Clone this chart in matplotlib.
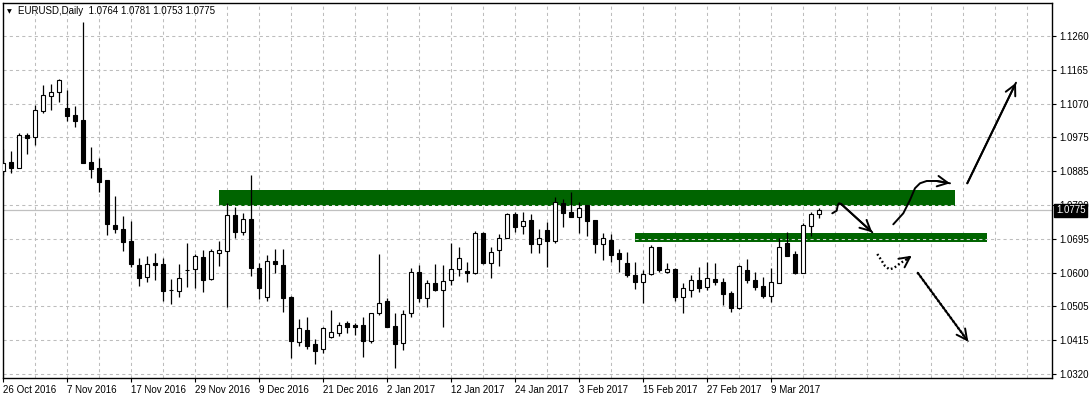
import matplotlib
matplotlib.use("Agg")
import matplotlib.pyplot as plt
from matplotlib.transforms import blended_transform_factory

plt.rcParams['font.family'] = ['Liberation Sans', 'DejaVu Sans']

# ---------------- data (EURUSD daily) ----------------
opens = [1.0885, 1.0909, 1.0894, 1.0984, 1.0978, 1.1052, 1.1094, 1.1103, 1.1060, 1.1040,
         1.1026, 1.0909, 1.0892, 1.0859, 1.0734, 1.0723, 1.0690, 1.0623, 1.0591, 1.0629,
         1.0625, 1.0553, 1.0552, 1.0608, 1.0611, 1.0646, 1.0584, 1.0657, 1.0663, 1.0762,
         1.0716, 1.0751, 1.0614, 1.0533, 1.0634, 1.0623, 1.0535, 1.0410, 1.0442, 1.0403,
         1.0389, 1.0422, 1.0433, 1.0461, 1.0456, 1.0456, 1.0413, 1.0489, 1.0523, 1.0453,
         1.0405, 1.0489, 1.0604, 1.0530, 1.0572, 1.0555, 1.0581, 1.0612, 1.0606, 1.0600,
         1.0711, 1.0628, 1.0665, 1.0699, 1.0764, 1.0731, 1.0748, 1.0681, 1.0720, 1.0691,
         1.0795, 1.0770, 1.0756, 1.0790, 1.0748, 1.0681, 1.0694, 1.0657, 1.0628, 1.0595,
         1.0575, 1.0597, 1.0672, 1.0604, 1.0611, 1.0533, 1.0555, 1.0581, 1.0561, 1.0584,
         1.0575, 1.0544, 1.0504, 1.0609, 1.0581, 1.0565, 1.0538, 1.0574, 1.0685, 1.0654,
         1.0602, 1.0731, 1.0764]
highs = [1.0945, 1.0940, 1.0989, 1.0991, 1.1068, 1.1123, 1.1126, 1.1140, 1.1110, 1.1065,
         1.1299, 1.0950, 1.0922, 1.0859, 1.0815, 1.0759, 1.0746, 1.0642, 1.0648, 1.0656,
         1.0642, 1.0583, 1.0626, 1.0683, 1.0654, 1.0665, 1.0667, 1.0690, 1.0795, 1.0785,
         1.0767, 1.0873, 1.0629, 1.0651, 1.0668, 1.0669, 1.0537, 1.0473, 1.0478, 1.0417,
         1.0450, 1.0498, 1.0465, 1.0467, 1.0463, 1.0479, 1.0490, 1.0654, 1.0530, 1.0490,
         1.0498, 1.0614, 1.0623, 1.0581, 1.0626, 1.0623, 1.0685, 1.0672, 1.0632, 1.0718,
         1.0716, 1.0674, 1.0708, 1.0767, 1.0771, 1.0770, 1.0765, 1.0723, 1.0743, 1.0811,
         1.0808, 1.0827, 1.0797, 1.0790, 1.0748, 1.0711, 1.0709, 1.0667, 1.0660, 1.0632,
         1.0609, 1.0679, 1.0674, 1.0630, 1.0614, 1.0572, 1.0595, 1.0617, 1.0632, 1.0629,
         1.0586, 1.0551, 1.0623, 1.0640, 1.0604, 1.0589, 1.0614, 1.0697, 1.0714, 1.0662,
         1.0741, 1.0770, 1.0781]
lows = [1.0873, 1.0880, 1.0892, 1.0932, 1.0957, 1.1046, 1.1054, 1.1077, 1.1024, 1.1008,
        1.0906, 1.0864, 1.0827, 1.0706, 1.0711, 1.0663, 1.0618, 1.0565, 1.0577, 1.0581,
        1.0524, 1.0515, 1.0535, 1.0561, 1.0558, 1.0549, 1.0581, 1.0621, 1.0505, 1.0697,
        1.0706, 1.0592, 1.0529, 1.0523, 1.0600, 1.0493, 1.0364, 1.0398, 1.0389, 1.0348,
        1.0379, 1.0420, 1.0427, 1.0435, 1.0428, 1.0368, 1.0407, 1.0484, 1.0452, 1.0338,
        1.0387, 1.0479, 1.0521, 1.0507, 1.0552, 1.0452, 1.0567, 1.0592, 1.0577, 1.0597,
        1.0626, 1.0586, 1.0620, 1.0697, 1.0716, 1.0708, 1.0656, 1.0656, 1.0618, 1.0683,
        1.0730, 1.0756, 1.0711, 1.0704, 1.0656, 1.0637, 1.0632, 1.0604, 1.0591, 1.0556,
        1.0517, 1.0595, 1.0604, 1.0600, 1.0524, 1.0490, 1.0535, 1.0549, 1.0554, 1.0567,
        1.0512, 1.0493, 1.0500, 1.0572, 1.0555, 1.0530, 1.0521, 1.0572, 1.0648, 1.0597,
        1.0602, 1.0704, 1.0753]
closes = [1.0906, 1.0894, 1.0984, 1.0977, 1.1054, 1.1096, 1.1103, 1.1139, 1.1038, 1.1023,
          1.0907, 1.0889, 1.0853, 1.0736, 1.0722, 1.0688, 1.0625, 1.0586, 1.0626, 1.0624,
          1.0552, 1.0554, 1.0586, 1.0609, 1.0648, 1.0581, 1.0662, 1.0664, 1.0762, 1.0716,
          1.0751, 1.0614, 1.0558, 1.0634, 1.0625, 1.0532, 1.0412, 1.0447, 1.0399, 1.0385,
          1.0447, 1.0436, 1.0456, 1.0452, 1.0452, 1.0413, 1.0489, 1.0517, 1.0452, 1.0403,
          1.0487, 1.0604, 1.0530, 1.0572, 1.0554, 1.0579, 1.0612, 1.0642, 1.0602, 1.0711,
          1.0628, 1.0660, 1.0699, 1.0764, 1.0730, 1.0746, 1.0681, 1.0697, 1.0691, 1.0797,
          1.0767, 1.0757, 1.0783, 1.0746, 1.0681, 1.0697, 1.0651, 1.0639, 1.0595, 1.0577,
          1.0597, 1.0672, 1.0609, 1.0611, 1.0535, 1.0558, 1.0581, 1.0560, 1.0586, 1.0575,
          1.0542, 1.0504, 1.0620, 1.0581, 1.0563, 1.0537, 1.0575, 1.0672, 1.0649, 1.0602,
          1.0734, 1.0765, 1.0775]

date_labels = ["26 Oct 2016", "7 Nov 2016", "17 Nov 2016", "29 Nov 2016", "9 Dec 2016",
               "21 Dec 2016", "2 Jan 2017", "12 Jan 2017", "24 Jan 2017", "3 Feb 2017",
               "15 Feb 2017", "27 Feb 2017", "9 Mar 2017"]
date_label_bars = [0, 8, 16, 24, 32, 40, 48, 56, 64, 72, 80, 88, 96]

price_levels = [1.0320, 1.0414, 1.0508, 1.0602, 1.0696, 1.0790, 1.0884, 1.0978, 1.1072, 1.1166, 1.1260]
price_labels = ["1.0320", "1.0415", "1.0505", "1.0600", "1.0695", "1.0790", "1.0885",
                "1.0975", "1.1070", "1.1165", "1.1260"]

current_price = 1.0775
header = "EURUSD,Daily  1.0764 1.0781 1.0753 1.0775"

# drawn objects (bar index, price)
zone_upper = dict(x0=26.95, x1=118.95, y0=1.07886, y1=1.08317)
zone_lower = dict(x0=78.95, x1=122.92, y0=1.06879, y1=1.07130)

arrow_hook = [(103.625, 1.07669), (104.175, 1.07742), (104.30, 1.07886), (104.46, 1.07947),
              (104.71, 1.07933), (108.625, 1.07141)]
arrow_s = [(111.25, 1.07363), (112.5, 1.07669), (113.34, 1.08039), (113.96, 1.08365),
           (114.59, 1.08504), (115.425, 1.08568), (116.675, 1.08568), (118.34, 1.08504)]
arrow_up = [(120.5, 1.08504), (126.59, 1.11301)]
arrow_dot_curve = [(109.25, 1.06537), (109.8, 1.06351), (110.21, 1.06204), (110.75, 1.06112),
                   (111.25, 1.06140), (111.675, 1.06204), (112.09, 1.06279), (112.925, 1.06390),
                   (113.55, 1.06490)]
arrow_dot_down = [(114.3, 1.06017), (120.625, 1.04098)]

# ---------------- figure ----------------
W, H = 1091, 399
fig = plt.figure(figsize=(W / 100, H / 100), dpi=100)
ax = fig.add_axes([2.7 / W, 1 - 378 / H, (1052 - 2.7) / W, (378 - 3) / H])
ax.set_xlim(-0.075, 131.09)
ax.set_ylim(1.03089, 1.13518)

grid_col = '#bdbdbd'
for lv in price_levels:
    ax.axhline(lv, color=grid_col, lw=0.75, ls=(0, (3, 3)), zorder=0.5)
for xb in range(0, 132, 4):
    ax.axvline(xb, color=grid_col, lw=0.75, ls=(0, (3, 3)), zorder=0.5)

# zones
for z in (zone_upper, zone_lower):
    ax.fill_between([z['x0'], z['x1']], z['y0'], z['y1'], color='#006400', lw=0, zorder=1)
    for lv in price_levels:
        if z['y0'] - 0.0002 <= lv <= z['y1']:
            ax.plot([z['x0'], z['x1']], [lv, lv], color='#d8d8d8', lw=0.75,
                    ls=(0, (3, 3)), zorder=1.2)

# current price line
ax.axhline(current_price, color='#c0c0c0', lw=0.9, zorder=0.8)

# candles
n = len(opens)
xs = list(range(n))
ax.vlines(xs, lows, highs, color='black', lw=0.9, zorder=2)
for i in range(n):
    o, c = opens[i], closes[i]
    bottom = min(o, c)
    h = max(abs(c - o), 0.00005)
    face = 'white' if c >= o else 'black'
    ax.bar(i, h, bottom=bottom, width=0.5, color=face, edgecolor='black', lw=0.8, zorder=3)

# arrows
def draw_arrow(pts, dotted=False):
    px = [p[0] for p in pts]
    py = [p[1] for p in pts]
    if dotted:
        ax.plot(px, py, color='black', lw=1.7, ls=(0, (0.75, 1.05)), solid_capstyle='butt',
                dash_capstyle='butt', zorder=4)
    else:
        ax.plot(px, py, color='black', lw=1.4, solid_capstyle='round',
                solid_joinstyle='round', zorder=4)
    ax.annotate('', xy=pts[-1], xytext=pts[-2],
                arrowprops=dict(arrowstyle='->,head_length=0.75,head_width=0.38',
                                lw=1.4, color='black', shrinkA=0, shrinkB=0,
                                mutation_scale=10), zorder=4)

draw_arrow(arrow_hook)
draw_arrow(arrow_s)
draw_arrow(arrow_up)
draw_arrow(arrow_dot_curve, dotted=True)
draw_arrow(arrow_dot_down, dotted=True)

# axes styling
for s in ax.spines.values():
    s.set_color('black')
    s.set_linewidth(1.0)

ax.yaxis.tick_right()
ax.set_yticks(price_levels)
ax.set_yticklabels(price_labels)
ax.tick_params(axis='y', direction='out', length=3, width=0.8, pad=2, labelsize=7,
               colors='black')
ax.set_xticks(date_label_bars)
ax.set_xticklabels(date_labels, ha='left')
ax.tick_params(axis='x', direction='out', length=3, width=0.8, pad=2, labelsize=7,
               colors='black')
for lbl in ax.get_xticklabels():
    lbl.set_horizontalalignment('left')

# current price tag
tr = blended_transform_factory(ax.transAxes, ax.transData)
ax.text(1.0 + 4 / 1049.3, current_price, '1.0775', transform=tr, color='white',
        fontsize=7, va='center', ha='left', clip_on=False, zorder=10,
        bbox=dict(boxstyle='square,pad=0.18', facecolor='black', edgecolor='black'))

# header
fig.text(9.5 / W, 1 - 11.5 / H, '\u25BC', fontsize=4.5, ha='center', va='center',
         color='black', family=['DejaVu Sans'])
fig.text(18 / W, 1 - 11 / H, header, fontsize=7, ha='left', va='center', color='black')

fig.savefig('out.png', dpi=100)
